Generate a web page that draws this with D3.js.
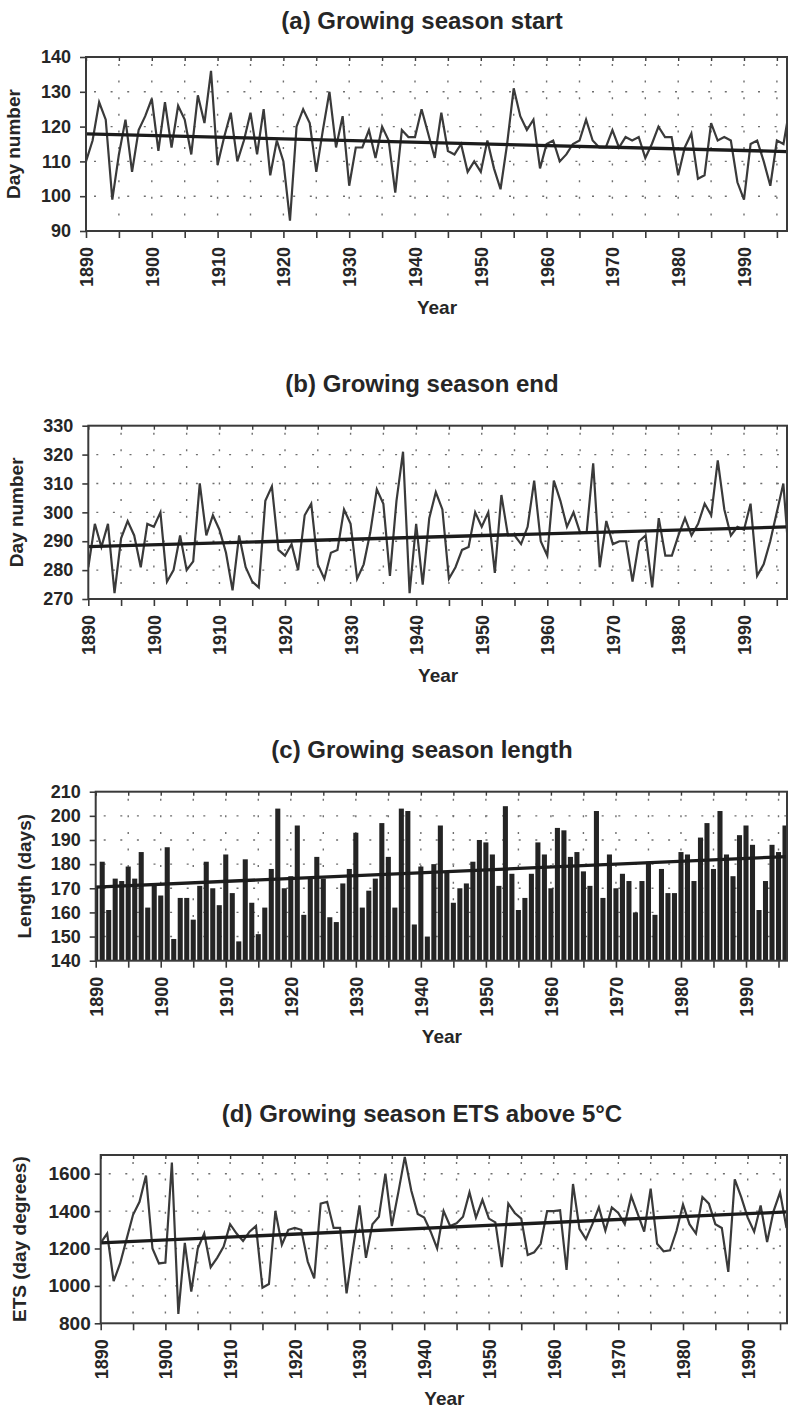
<!DOCTYPE html>
<html>
<head>
<meta charset="utf-8">
<script src="https://cdn.jsdelivr.net/npm/d3@7"></script>
<style>
  html, body { margin: 0; padding: 0; background: #fff; }
  svg { display: block; }
</style>
</head>
<body>
<div id="chart"></div>
<script>
'use strict';

const W = 788, H = 1410;
const RIGHT = 787;

// Years on the x axis
const years = d3.range(1890, 1998);

// (a) start of growing season, day number, 1890-1997
const startDay = [
  110, 116, 127, 122, 99, 112, 122, 107, 119, 123,
  128, 113, 127, 114, 126, 122, 112, 129, 121, 136,
  109, 117, 124, 110, 116, 124, 112, 125, 106, 116,
  110, 93, 120, 125, 121, 107, 119, 130, 114, 123,
  103, 114, 114, 119, 111, 120, 116, 101, 119, 117,
  117, 125, 118, 111, 124, 113, 112, 115, 107, 110,
  107, 116, 108, 102, 115, 131, 123, 119, 122, 108,
  115, 116, 110, 112, 115, 116, 122, 116, 114, 114,
  119, 114, 117, 116, 117, 111, 115, 120, 117, 117,
  106, 114, 118, 105, 106, 121, 116, 117, 116, 104,
  99, 115, 116, 110, 103, 116, 115, 126
];

// (b) end of growing season, day number, 1890-1997
const endDay = [
  281, 296, 288, 296, 272, 291, 297, 292, 281, 296,
  295, 300, 276, 280, 292, 280, 283, 310, 292, 299,
  294, 286, 273, 292, 281, 276, 274, 304, 309, 287,
  285, 289, 280, 299, 303, 282, 277, 286, 287, 301,
  296, 277, 282, 293, 308, 303, 278, 304, 321, 272,
  296, 275, 298, 307, 301, 277, 281, 287, 288, 300,
  295, 300, 279, 306, 292, 292, 289, 295, 311, 290,
  285, 311, 304, 295, 300, 293, 293, 317, 281, 297,
  289, 290, 290, 276, 290, 292, 274, 298, 285, 285,
  292, 298, 292, 296, 303, 299, 318, 301, 292, 295,
  294, 303, 278, 282, 290, 300, 310, 280
];

// (c) growing season length, days, 1890-1996
const seasonLength = [
  171, 181, 161, 174, 173, 179, 174, 185, 162, 172,
  167, 187, 149, 166, 166, 157, 171, 181, 170, 163,
  184, 168, 148, 182, 164, 151, 162, 178, 203, 170,
  175, 196, 159, 174, 183, 174, 158, 156, 172, 178,
  193, 162, 169, 174, 197, 183, 162, 203, 202, 155,
  179, 150, 180, 196, 177, 164, 170, 172, 181, 190,
  189, 184, 171, 204, 176, 161, 166, 176, 189, 184,
  170, 195, 194, 183, 185, 177, 171, 202, 166, 184,
  170, 176, 173, 160, 173, 181, 159, 178, 168, 168,
  185, 184, 173, 191, 197, 178, 202, 184, 175, 192,
  196, 188, 161, 173, 188, 185, 196
];

// (d) effective temperature sum above 5°C, day degrees, 1890-1996
const ets = [
  1230, 1280, 1025, 1120, 1250, 1380, 1450, 1590, 1200, 1120,
  1125, 1660, 850, 1230, 970, 1200, 1280, 1100, 1150, 1210,
  1330, 1280, 1240, 1290, 1320, 990, 1010, 1400, 1220, 1300,
  1310, 1300, 1130, 1040, 1440, 1450, 1310, 1310, 960, 1200,
  1430, 1150, 1330, 1370, 1600, 1320, 1500, 1690, 1510, 1385,
  1365, 1290, 1200, 1400, 1320, 1335, 1370, 1500, 1365, 1460,
  1360, 1340, 1100, 1440, 1390, 1360, 1165, 1180, 1225, 1400,
  1400, 1405, 1085, 1545, 1305, 1250, 1330, 1420, 1295, 1420,
  1390, 1330, 1480, 1385, 1290, 1520, 1225, 1185, 1190, 1295,
  1435, 1330, 1280, 1475, 1440, 1330, 1310, 1075, 1570, 1475,
  1365, 1290, 1430, 1235, 1400, 1500, 1310
];

// Linear trend end points (1890 and 1997)
const trendYears = [1890, 1997];
const trendStart = [117.9, 112.8];
const trendEnd = [288.1, 295.0];
const trendLength = [170.5, 183.2];
const trendEts = [1230, 1397];

const titles = [
  '(a) Growing season start',
  '(b) Growing season end',
  '(c) Growing season length',
  '(d) Growing season ETS above 5°C'
];
const yTitles = ['Day number', 'Day number', 'Length (days)', 'ETS (day degrees)'];
const yTicksA = [90, 100, 110, 120, 130, 140];
const yTicksB = [270, 280, 290, 300, 310, 320, 330];
const yTicksC = [140, 150, 160, 170, 180, 190, 200, 210];
const yTicksD = [800, 1000, 1200, 1400, 1600];

// Layout of the four panels (pixels)
const panels = [
  { kind: 'line', values: startDay, trend: trendStart, yDomain: [90, 140], yTicks: yTicksA,
    left: 86, ppy: 6.58, top: 57, bottom: 231, titleY: 28.5, yearY: 314, yTitleX: 19.5, labelGap: 15 },
  { kind: 'line', values: endDay, trend: trendEnd, yDomain: [270, 330], yTicks: yTicksB,
    left: 88.3, ppy: 6.557, top: 425.7, bottom: 599, titleY: 392, yearY: 681.5, yTitleX: 23, labelGap: 15 },
  { kind: 'bar', values: seasonLength, trend: trendLength, yDomain: [140, 210], yTicks: yTicksC,
    left: 95.7, ppy: 6.503, top: 791.7, bottom: 960.7, titleY: 758, yearY: 1043, yTitleX: 31, labelGap: 15 },
  { kind: 'line', values: ets, trend: trendEts, yDomain: [800, 1700], yTicks: yTicksD,
    left: 100.7, ppy: 6.47, top: 1155, bottom: 1323.3, titleY: 1121.5, yearY: 1405, yTitleX: 26, labelGap: 10 }
];

const TEXT = '#262626';
const FONT = '"Liberation Sans", Arial, Helvetica, sans-serif';

const svg = d3.select('#chart').append('svg')
  .attr('width', W).attr('height', H)
  .attr('font-family', FONT)
  .attr('font-weight', 'bold');

svg.append('rect').attr('width', W).attr('height', H).attr('fill', '#fff');

panels.forEach((p, pi) => {
  const x = d3.scaleLinear()
    .domain([1890, 1890 + (RIGHT - p.left) / p.ppy])
    .range([p.left, RIGHT]);
  const y = d3.scaleLinear().domain(p.yDomain).range([p.bottom, p.top]);

  const g = svg.append('g');
  const clipId = 'clip' + pi;
  g.append('clipPath').attr('id', clipId)
    .append('rect')
    .attr('x', p.left).attr('y', p.top)
    .attr('width', RIGHT - p.left).attr('height', p.bottom - p.top);

  // Title
  g.append('text')
    .attr('x', 422).attr('y', p.titleY)
    .attr('text-anchor', 'middle')
    .attr('font-size', 24)
    .attr('fill', TEXT)
    .text(titles[pi]);

  // Dotted grid
  const fiveYears = d3.range(1895, 1997, 5);
  const grid = g.append('g')
    .attr('stroke', '#6e6e6e').attr('stroke-width', 1.4)
    .attr('stroke-dasharray', '2,14.6');
  grid.selectAll('.hg')
    .data(p.yTicks.filter(v => v > p.yDomain[0] && v < p.yDomain[1]))
    .join('line')
    .attr('x1', p.left + 8).attr('x2', RIGHT)
    .attr('y1', d => y(d)).attr('y2', d => y(d));
  grid.selectAll('.vg')
    .data(fiveYears)
    .join('line')
    .attr('x1', d => x(d)).attr('x2', d => x(d))
    .attr('y1', p.top + 7).attr('y2', p.bottom);

  const data = g.append('g').attr('clip-path', `url(#${clipId})`);

  if (p.kind === 'bar') {
    const bw = p.ppy * 0.78;
    data.selectAll('rect')
      .data(p.values)
      .join('rect')
      .attr('x', (d, i) => x(years[i]) - bw / 2)
      .attr('width', bw)
      .attr('y', d => y(d))
      .attr('height', d => y(p.yDomain[0]) - y(d))
      .attr('fill', '#242424');
  } else {
    const line = d3.line()
      .x((d, i) => x(years[i]))
      .y(d => y(d));
    data.append('path')
      .datum(p.values)
      .attr('d', line)
      .attr('fill', 'none')
      .attr('stroke', '#3a3a3a')
      .attr('stroke-width', 2.2)
      .attr('stroke-linejoin', 'miter');
  }

  // Trend line
  data.append('line')
    .attr('x1', x(trendYears[0])).attr('y1', y(p.trend[0]))
    .attr('x2', x(trendYears[1])).attr('y2', y(p.trend[1]))
    .attr('stroke', '#1c1c1c')
    .attr('stroke-width', 3.3);

  // Left axis
  const ya = g.append('g')
    .attr('transform', `translate(${p.left},0)`)
    .call(d3.axisLeft(y).tickValues(p.yTicks).tickSize(6)
      .tickPadding(p.labelGap - 6).tickFormat(d3.format('d')));
  ya.select('.domain').remove();
  ya.attr('font-size', null).attr('font-family', null);
  ya.selectAll('line').attr('stroke', '#3a3a3a').attr('stroke-width', 1.6);
  ya.selectAll('text').attr('font-size', pi === 3 ? 19 : 18).attr('fill', TEXT);

  // Bottom axis, ticks every 5 years, labels every 10
  const xa = g.append('g')
    .attr('transform', `translate(0,${p.bottom})`)
    .call(d3.axisBottom(x).tickValues(d3.range(1890, 1997, 5)).tickSize(7)
      .tickFormat(d => d % 10 === 0 ? String(d) : ''));
  xa.select('.domain').remove();
  xa.attr('font-size', null).attr('font-family', null);
  xa.selectAll('line').attr('stroke', '#3a3a3a').attr('stroke-width', 1.6);
  xa.selectAll('text')
    .attr('font-size', 18)
    .attr('fill', TEXT)
    .attr('y', 0).attr('x', -16)
    .attr('dy', '0.36em')
    .attr('transform', 'rotate(-90)')
    .attr('text-anchor', 'end');

  // Top axis, inward ticks
  const ta = g.append('g')
    .attr('transform', `translate(0,${p.top})`)
    .call(d3.axisTop(x).tickValues(d3.range(1890, 1997, 5)).tickSize(-4).tickFormat(''));
  ta.select('.domain').remove();
  ta.selectAll('line').attr('stroke', '#3a3a3a').attr('stroke-width', 1.4);

  // Frame
  g.append('rect')
    .attr('x', p.left).attr('y', p.top)
    .attr('width', RIGHT - p.left).attr('height', p.bottom - p.top)
    .attr('fill', 'none')
    .attr('stroke', '#3a3a3a')
    .attr('stroke-width', 2);

  // Axis titles
  g.append('text')
    .attr('x', (p.left + W) / 2).attr('y', p.yearY)
    .attr('text-anchor', 'middle')
    .attr('font-size', 19)
    .attr('fill', TEXT)
    .text('Year');

  g.append('text')
    .attr('transform', `translate(${p.yTitleX},${(p.top + p.bottom) / 2}) rotate(-90)`)
    .attr('text-anchor', 'middle')
    .attr('font-size', 19)
    .attr('fill', TEXT)
    .text(yTitles[pi]);
});
</script>
</body>
</html>
